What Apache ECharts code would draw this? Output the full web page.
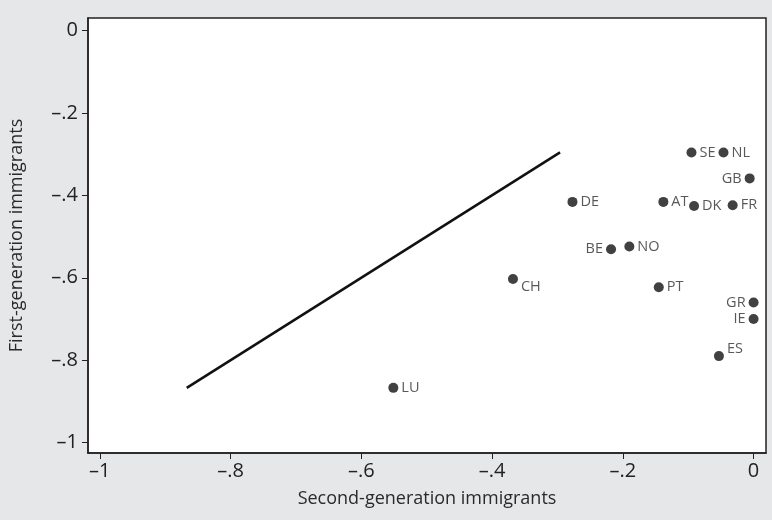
<!DOCTYPE html>
<html><head><meta charset="utf-8">
<script src="https://cdn.jsdelivr.net/npm/echarts@6/dist/echarts.min.js"></script>
<style>html,body{margin:0;padding:0;background:#e6e7e8;}#c{width:772px;height:520px;}</style>
</head><body><div id="c"></div>
<script>
const countries = ['SE','NL','GB','DE','AT','DK','FR','BE','NO','CH','PT','GR','IE','ES','LU'];
const secondGen = [-0.095,-0.046,-0.006,-0.277,-0.138,-0.091,-0.032,-0.218,-0.190,-0.368,-0.145,0.0,0.0,-0.053,-0.551];
const firstGen  = [-0.296,-0.296,-0.359,-0.416,-0.416,-0.426,-0.424,-0.531,-0.524,-0.603,-0.623,-0.660,-0.700,-0.790,-0.867];
const labelSide = ['right','right','left','right','right','right','right','left','right','right','right','left','left','right','right'];
const labelShift = [0,0,0,0,0,0,0,0,0,8,0,0,0,-7,0];
const lineX = [-0.867,-0.296];
const lineY = [-0.867,-0.296];
const tickVals = [-1,-0.8,-0.6,-0.4,-0.2,0];

function fmt(v){
  if (Math.abs(v) < 1e-9) return '0';
  let s = Math.abs(v).toFixed(1);
  if (s === '1.0') s = '1'; else s = s.replace(/^0/, '');
  return (v < 0 ? '\u2013' : '') + s;
}
const FONT = '"Open Sans", "Noto Sans", sans-serif';
const pts = countries.map((c,i)=>({
  value:[secondGen[i], firstGen[i]],
  name:c,
  label:{show:true, formatter:c, position:labelSide[i], distance:3, offset:[0,labelShift[i]],
         color:'#2e2e2e', fontSize:14.5, fontFamily:FONT}
}));
const chart = echarts.init(document.getElementById('c'), null, {renderer:'canvas'});
chart.setOption({
  backgroundColor:'#e6e7e8',
  animation:false,
  grid:{left:86, right:6, top:18, bottom:67, show:true, backgroundColor:'#ffffff', borderColor:'#222', borderWidth:1.5},
  xAxis:{type:'value', min:-1.018, max:0.019,
    name:'Second-generation immigrants', nameLocation:'middle', nameGap:37,
    nameTextStyle:{fontSize:18, color:'#2a2a2a', fontFamily:FONT},
    axisLine:{show:true, onZero:false, lineStyle:{color:'#222', width:1.5}},
    axisTick:{show:true, length:6, customValues:tickVals, lineStyle:{color:'#222'}},
    axisLabel:{customValues:tickVals, formatter:fmt, fontSize:20, color:'#222', margin:8, fontFamily:FONT},
    splitLine:{show:false}},
  yAxis:{type:'value', min:-1.025, max:0.03,
    name:'First-generation immigrants', nameLocation:'middle', nameGap:62,
    nameTextStyle:{fontSize:18, color:'#2a2a2a', fontFamily:FONT},
    axisLine:{show:true, onZero:false, lineStyle:{color:'#222', width:1.5}},
    axisTick:{show:true, length:6, customValues:tickVals, lineStyle:{color:'#222'}},
    axisLabel:{customValues:tickVals, formatter:fmt, fontSize:20, color:'#222', margin:10, fontFamily:FONT},
    splitLine:{show:false}},
  series:[
    {type:'line', data:lineX.map((x,i)=>[x,lineY[i]]), symbol:'none', lineStyle:{color:'#111', width:2.5}},
    {type:'scatter', data:pts, symbolSize:10, itemStyle:{color:'#111'}}
  ]
});
</script></body></html>
